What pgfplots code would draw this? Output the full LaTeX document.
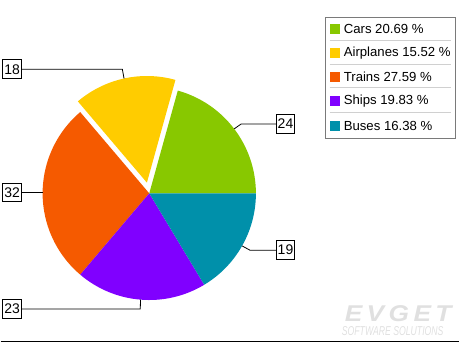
\documentclass[border=0pt]{standalone}
\usepackage{pgfplots}
\pgfplotsset{compat=1.18}
\usepackage{fontspec}
\setmainfont{Liberation Sans}
\definecolor{carsc}{HTML}{88C800}
\definecolor{airc}{HTML}{FFCC00}
\definecolor{trainc}{HTML}{F55A00}
\definecolor{shipc}{HTML}{8000FF}
\definecolor{busc}{HTML}{0090AA}
\definecolor{legbord}{HTML}{7A7A7A}
\definecolor{legsep}{HTML}{D0D0D0}
\definecolor{wm}{HTML}{E0E0E0}
\begin{document}
\begin{tikzpicture}
% data values
\def\vCars{24}\def\vAir{18}\def\vTrain{32}\def\vShip{23}\def\vBus{19}
\pgfmathsetmacro{\tot}{\vCars+\vAir+\vTrain+\vShip+\vBus}
\pgfmathsetmacro{\aA}{0}
\pgfmathsetmacro{\aB}{\aA+360*\vCars/\tot}
\pgfmathsetmacro{\aC}{\aB+360*\vAir/\tot}
\pgfmathsetmacro{\aD}{\aC+360*\vTrain/\tot}
\pgfmathsetmacro{\aE}{\aD+360*\vShip/\tot}
\pgfmathsetmacro{\aF}{360}
\pgfmathsetmacro{\mB}{(\aB+\aC)/2}
\pgfmathsetmacro{\ex}{149+11*cos(\mB)}
\pgfmathsetmacro{\ey}{151+11*sin(\mB)}
\begin{axis}[x=1pt,y=1pt,xmin=0,xmax=460,ymin=0,ymax=345,hide axis,clip=false]
\addplot[draw=none] coordinates {(0,0) (460,345)};
% slices
\fill[carsc] (axis cs:149,151) -- ++(\aA:107pt) arc[start angle=\aA,end angle=\aB,radius=107pt] -- cycle;
\fill[airc] (axis cs:\ex,\ey) -- ++(\aB:107pt) arc[start angle=\aB,end angle=\aC,radius=107pt] -- cycle;
\fill[trainc] (axis cs:149,151) -- ++(\aC:107pt) arc[start angle=\aC,end angle=\aD,radius=107pt] -- cycle;
\fill[shipc] (axis cs:149,151) -- ++(\aD:107pt) arc[start angle=\aD,end angle=\aE,radius=107pt] -- cycle;
\fill[busc] (axis cs:149,151) -- ++(\aE:107pt) arc[start angle=\aE,end angle=\aF,radius=107pt] -- cycle;
% leader lines
\draw[line width=0.8pt] (axis cs:234.2,215.7) -- (axis cs:241,220.5) -- (axis cs:276,220.5);
\draw[line width=0.8pt] (axis cs:123.7,266.2) -- (axis cs:122,275.5) -- (axis cs:21,275.5);
\draw[line width=0.8pt] (axis cs:42,152) -- (axis cs:21,152);
\draw[line width=0.8pt] (axis cs:140.2,44.4) -- (axis cs:140,35) -- (axis cs:21,35);
\draw[line width=0.8pt] (axis cs:242.1,98.3) -- (axis cs:250,94) -- (axis cs:276,94);
% labels
\tikzset{lab/.style={draw,line width=0.8pt,fill=white,inner xsep=1.5pt,inner ysep=0pt,minimum height=19pt,font=\fontsize{14}{14}\selectfont}}
\node[lab,anchor=west] at (axis cs:276,220.5) {24};
\node[lab,anchor=east] at (axis cs:21,275.5) {18};
\node[lab,anchor=east] at (axis cs:21,152) {32};
\node[lab,anchor=east] at (axis cs:21,35) {23};
\node[lab,anchor=west] at (axis cs:276,94) {19};
% legend
\draw[legbord,line width=0.8pt,fill=white] (axis cs:326,328) rectangle (axis cs:456,206);
\draw[legsep,line width=0.8pt] (axis cs:330,304) -- (axis cs:452,304);
\draw[legsep,line width=0.8pt] (axis cs:330,280) -- (axis cs:452,280);
\draw[legsep,line width=0.8pt] (axis cs:330,257) -- (axis cs:452,257);
\draw[legsep,line width=0.8pt] (axis cs:330,232) -- (axis cs:452,232);
\fill[carsc] (axis cs:330,311) rectangle (axis cs:340,321);
\fill[airc] (axis cs:330,287) rectangle (axis cs:340,297);
\fill[trainc] (axis cs:330,263) rectangle (axis cs:340,273);
\fill[shipc] (axis cs:330,239) rectangle (axis cs:340,249);
\fill[busc] (axis cs:330,214) rectangle (axis cs:340,224);
\tikzset{legt/.style={anchor=west,inner sep=0pt,font=\fontsize{13.2}{13}\selectfont}}
\node[legt] at (axis cs:344,316) {Cars 20.69 \%};
\node[legt] at (axis cs:344,292) {Airplanes 15.52 \%};
\node[legt] at (axis cs:344,268) {Trains 27.59 \%};
\node[legt] at (axis cs:344,244) {Ships 19.83 \%};
\node[legt] at (axis cs:344,219) {Buses 16.38 \%};
% watermark
\node[wm,anchor=south west,inner sep=0pt] at (axis cs:345,22) {\resizebox{107pt}{16pt}{\bfseries\itshape E\,V\,G\,E\,T}};
\node[wm,anchor=south west,inner sep=0pt] at (axis cs:342,8) {\resizebox{102pt}{9pt}{\itshape SOFTWARE SOLUTIONS}};
% bottom rule
\draw[line width=1.5pt] (axis cs:0,2.5) -- (axis cs:460,2.5);
\end{axis}
\end{tikzpicture}
\end{document}
